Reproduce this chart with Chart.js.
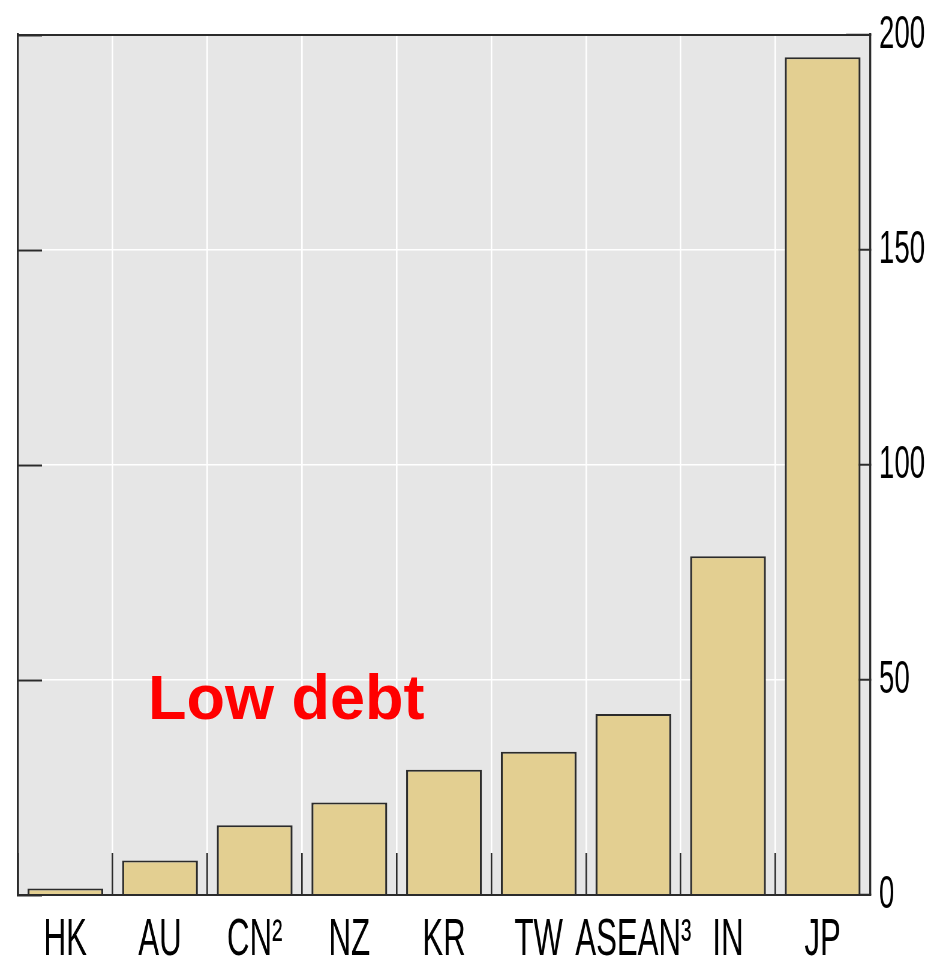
<!DOCTYPE html>
<html>
<head>
<meta charset="utf-8">
<script src="https://cdn.jsdelivr.net/npm/chart.js@4.4.1/dist/chart.umd.min.js"></script>
<style>
  html, body { margin: 0; padding: 0; background: #fff; }
  .wrap { position: relative; width: 949px; height: 965px; }
  .note {
    position: absolute; left: 148px; top: 666px;
    font: bold 63px 'Liberation Sans', Arial, sans-serif; line-height: 63px;
    color: #ff0000; white-space: nowrap;
  }
</style>
</head>
<body>
<div class="wrap">
  <!-- canvas is drawn wider and squeezed by css, the original labels are condensed -->
  <canvas id="debtChart" width="1582" height="965" style="width:949px;height:965px;display:block"></canvas>
  <div class="note">Low debt</div>
</div>
<script>
const categories = ['HK', 'AU', 'CN²', 'NZ', 'KR', 'TW', 'ASEAN³', 'IN', 'JP'];
const debtValues = [1.5, 8.0, 16.2, 21.5, 29.1, 33.3, 42.1, 78.8, 194.8];
const yTicks = [0, 50, 100, 150, 200];

// horizontal squeeze factor (css width / canvas width)
const SX = 949 / 1582;
const hx = px => px / SX;

const BG = '#e6e6e6';
const DARK = '#2b2b2b';

const plotBg = {
  id: 'plotBg',
  beforeDraw(chart) {
    const { ctx, chartArea: a } = chart;
    ctx.save();
    ctx.fillStyle = BG;
    ctx.fillRect(a.left, a.top, a.right - a.left, a.bottom - a.top);
    ctx.restore();
  }
};

const setTicks = s => { s.ticks = yTicks.map(v => ({ value: v })); };
// fixed box sizes, no extra room for overhanging labels
const fixBox = (w, h) => s => {
  if (w !== null) s.width = w;
  if (h !== null) s.height = h;
  s.paddingTop = s.paddingBottom = s.paddingLeft = s.paddingRight = 0;
};

new Chart(document.getElementById('debtChart'), {
  type: 'bar',
  data: {
    labels: categories,
    datasets: [{
      data: debtValues,
      backgroundColor: '#e3cf91',
      borderColor: DARK,
      borderWidth: { top: 2, left: hx(2), right: hx(2), bottom: 0 },
      borderSkipped: 'start',
      barPercentage: 0.8,
      categoryPercentage: 1
    }]
  },
  options: {
    responsive: false,
    devicePixelRatio: 1,
    animation: false,
    layout: { padding: { left: hx(18), top: 35, right: 0, bottom: 0 } },
    plugins: { legend: { display: false }, tooltip: { enabled: false } },
    scales: {
      x: {
        position: 'bottom',
        offset: true,
        grid: { offset: true, color: '#ffffff', lineWidth: hx(1.6), tickLength: -42, tickColor: DARK, tickWidth: hx(1.6) },
        border: { color: DARK, width: 2, z: 1 },
        ticks: {
          autoSkip: false, maxRotation: 0, minRotation: 0, padding: 56, color: '#000',
          font: { family: "'Liberation Sans Narrow', 'Liberation Sans', Arial, sans-serif", size: 52 }
        },
        afterFit: fixBox(null, 70)
      },
      xTop: {
        type: 'category',
        position: 'top',
        grid: { display: false },
        border: { color: DARK, width: 2, z: 1 },
        ticks: { display: false },
        afterFit: fixBox(null, 0)
      },
      y: {
        position: 'right',
        min: yTicks[0], max: yTicks[yTicks.length - 1],
        afterBuildTicks: setTicks,
        grid: { color: '#ffffff', lineWidth: 1.6, tickLength: -hx(24), tickColor: DARK, tickWidth: 2 },
        border: { color: DARK, width: hx(2), z: 1 },
        ticks: {
          padding: hx(24) + 15, color: '#000',
          font: { family: "'Liberation Sans', Arial, sans-serif", size: 46 }
        },
        afterFit: fixBox(1582 - hx(870), null)
      },
      yLeft: {
        type: 'linear',
        position: 'left',
        min: yTicks[0], max: yTicks[yTicks.length - 1],
        afterBuildTicks: setTicks,
        grid: { drawOnChartArea: false, tickLength: -hx(24), tickColor: DARK, tickWidth: 2 },
        border: { color: DARK, width: hx(2), z: 1 },
        ticks: { display: false },
        afterFit: fixBox(0, null)
      }
    }
  },
  plugins: [plotBg]
});
</script>
</body>
</html>
